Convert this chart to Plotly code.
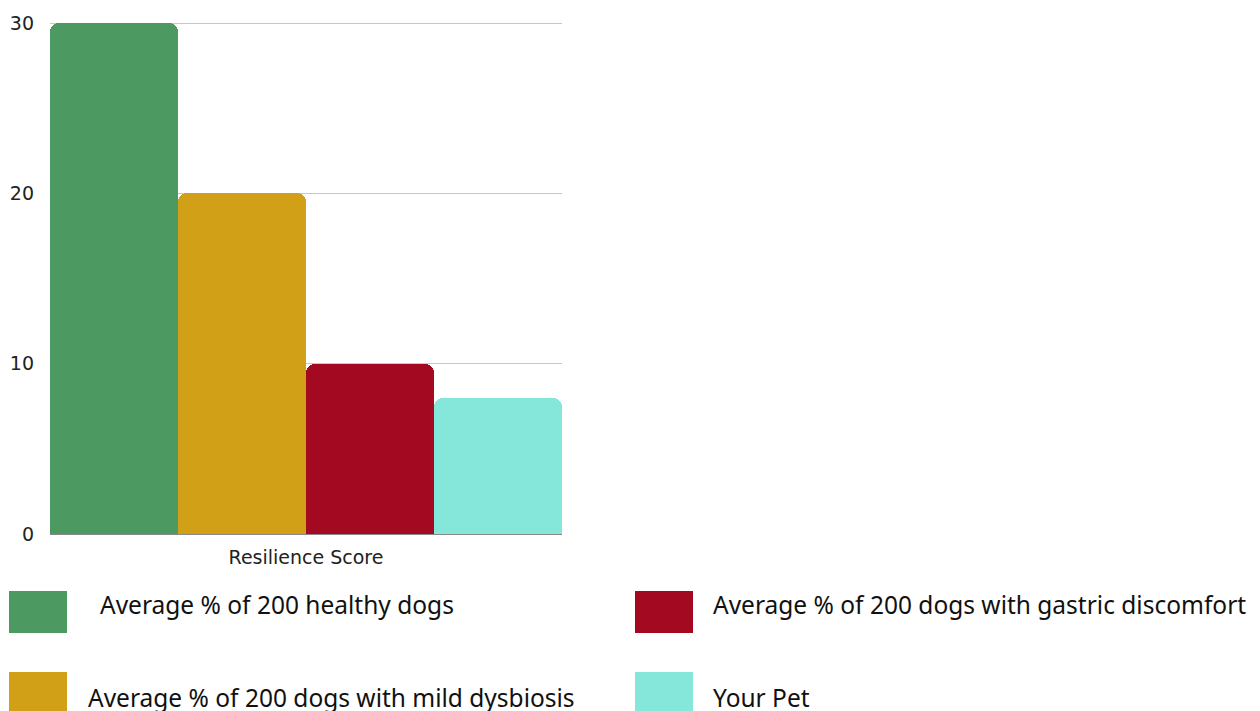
import plotly.graph_objects as go

# Data
category = ["Resilience Score"]
series_names = [
    "Average % of 200 healthy dogs",
    "Average % of 200 dogs with mild dysbiosis",
    "Average % of 200 dogs with gastric discomfort",
    "Your Pet",
]
series_values = [30, 20, 10, 8]
series_colors = ["#4C9962", "#D1A017", "#A30920", "#85E6DA"]
y_ticks = [0, 10, 20, 30]

W, H = 1260, 711
L, R, T, B = 50, 562, 22, 534  # plot area edges in pixels
Y_MAX = 30.06  # a hair above 30 so the top gridline stays visible


def px_x(px):
    return (px - L) / (R - L)


def px_y(py):
    return (B - py) / (B - T)


fig = go.Figure()
for name, val, col in zip(series_names, series_values, series_colors):
    fig.add_trace(go.Bar(
        x=category, y=[val], name=name,
        marker=dict(color=col, line=dict(width=0)),
        showlegend=False,
    ))

# Legend drawn as two columns of swatches with labels
legend_items = [
    # (swatch x0, swatch y0, swatch y1, text x, text y)
    (9, 591, 633, 100, 604),
    (9, 672, 714, 88, 697),
    (635, 591, 633, 713, 604),
    (635, 672, 714, 713, 697),
]
shapes = []
annotations = []
for (sx, sy0, sy1, tx, ty), name, col in zip(legend_items, series_names, series_colors):
    shapes.append(dict(
        type="rect", xref="paper", yref="paper",
        x0=px_x(sx), x1=px_x(sx + 58), y0=px_y(sy1), y1=px_y(sy0),
        fillcolor=col, line=dict(width=0),
    ))
    annotations.append(dict(
        text=name, xref="paper", yref="paper",
        x=px_x(tx - 2), y=px_y(ty), xanchor="left", yanchor="middle",
        showarrow=False, font=dict(family="Noto Sans", size=24.5, color="#111111"),
    ))

fig.update_layout(
    width=W, height=H,
    margin=dict(l=L, r=W - R, t=T, b=H - B, autoexpand=False),
    paper_bgcolor="white", plot_bgcolor="white",
    barmode="group", bargap=0, bargroupgap=0,
    barcornerradius=9,
    shapes=shapes, annotations=annotations,
    xaxis=dict(
        showgrid=False, showline=False, zeroline=False, automargin=False,
        tickfont=dict(family="DejaVu Sans", size=19, color="#222222"),
        ticks="", ticklabelstandoff=10,
    ),
    yaxis=dict(
        range=[0, Y_MAX], tickvals=y_ticks, automargin=False,
        showgrid=True, gridcolor="#C8C8C8", gridwidth=1,
        zeroline=True, zerolinecolor="#8A8A8A", zerolinewidth=1,
        showline=False, ticks="",
        tickfont=dict(family="DejaVu Sans", size=19, color="#222222"),
        ticklabelstandoff=15,
    ),
)

fig.write_html("out.html")
